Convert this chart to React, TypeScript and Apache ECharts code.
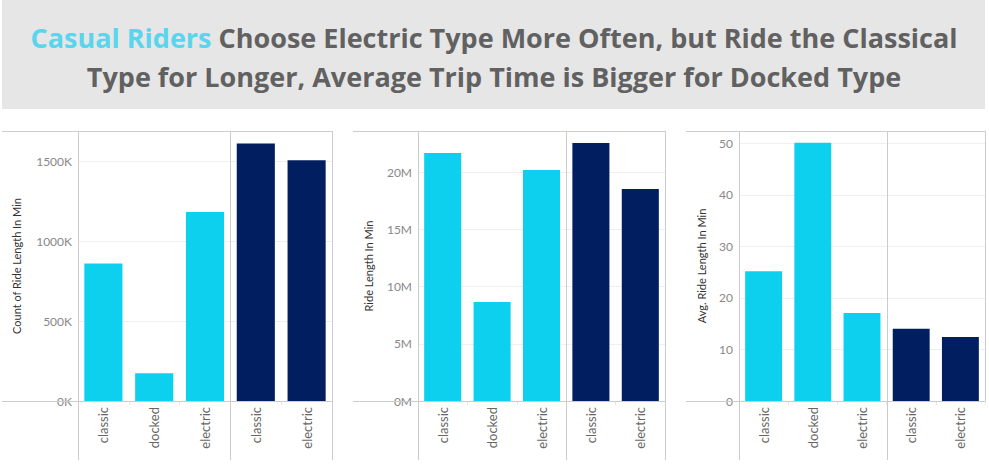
import React, { useEffect, useRef } from "react";
import * as echarts from "echarts";

const rideTypes = ["classic", "docked", "electric", "classic", "electric"];
const riderGroup = ["casual", "casual", "casual", "member", "member"];

const countCasual = [860000, 173000, 1181000];
const countMember = [1610000, 1504000];
const lengthCasual = [21680000, 8650000, 20190000];
const lengthMember = [22550000, 18530000];
const avgCasual = [25.2, 50.1, 17.1];
const avgMember = [14.0, 12.4];

const CASUAL = "#0dd0ef";
const MEMBER = "#001e60";
const FONT = "Lato, 'Open Sans', sans-serif";
const TITLE_FONT = "'Open Sans', Lato, sans-serif";

export default function App() {
  const ref = useRef<HTMLDivElement>(null);
  useEffect(() => {
    document.body.style.margin = "0";
    const chart = echarts.init(ref.current!, null, { renderer: "svg" });

    const grids = [
      { left: 78, top: 131, width: 254, height: 270 },
      { left: 418, top: 131, width: 247, height: 270 },
      { left: 739, top: 131, width: 246, height: 270 },
    ];
    const values = [
      [...countCasual, ...countMember],
      [...lengthCasual, ...lengthMember],
      [...avgCasual, ...avgMember],
    ];
    const maxes = [1687500, 23610000, 52.4];
    const intervals = [500000, 5000000, 10];
    const fmts = [
      (v: number) => `${Math.round(v / 1000)}K`,
      (v: number) => `${Math.round(v / 1000000)}M`,
      (v: number) => `${v}`,
    ];
    const names = ["Count of Ride Length In Min", "Ride Length In Min", "Avg. Ride Length In Min"];
    const nameGaps = [56, 44, 32];

    const xAxis = grids.map((_, i) => ({
      type: "category",
      gridIndex: i,
      data: rideTypes,
      axisLine: { show: false },
      axisTick: { show: true, length: 4, lineStyle: { color: "#e8e8e8" } },
      axisLabel: { rotate: 90, margin: 6, color: "#666", fontSize: 13, fontFamily: FONT, interval: 0 },
    }));
    const yAxis = grids.map((_, i) => ({
      type: "value",
      gridIndex: i,
      min: 0,
      max: maxes[i],
      interval: intervals[i],
      name: names[i],
      nameLocation: "middle",
      nameGap: nameGaps[i],
      nameRotate: 90,
      nameTextStyle: { color: "#333", fontSize: 11, fontFamily: FONT },
      axisLine: { show: false },
      axisTick: { show: false },
      axisLabel: {
        showMaxLabel: false,
        formatter: fmts[i],
        color: "#888",
        fontSize: 12,
        fontFamily: FONT,
        margin: 6,
      },
      splitLine: { lineStyle: { color: "#efefef", width: 1 } },
    }));
    const series = grids.map((_, i) => ({
      type: "bar",
      xAxisIndex: i,
      yAxisIndex: i,
      barWidth: "75%",
      data: values[i].map((v, j) => ({
        value: v,
        itemStyle: { color: riderGroup[j] === "casual" ? CASUAL : MEMBER },
      })),
    }));

    const frame = "#cccccc";
    const ln = (x1: number, y1: number, x2: number, y2: number) => ({
      type: "line",
      z: 100,
      shape: { x1, y1, x2, y2 },
      style: { stroke: frame, lineWidth: 1 },
    });
    const frames = [
      { l: 2, axis: 78, div: 230, r: 332, rBottom: 460 },
      { l: 353, axis: 418, div: 566, r: 665, rBottom: 460 },
      { l: 686, axis: 739, div: 887, r: 985, rBottom: 401 },
    ];
    const lines: any[] = [];
    frames.forEach((f) => {
      lines.push(ln(f.l, 131.5, f.r, 131.5));
      lines.push(ln(f.l, 401.5, f.r, 401.5));
      lines.push(ln(f.axis + 0.5, 131, f.axis + 0.5, 460));
      lines.push(ln(f.div + 0.5, 131, f.div + 0.5, 460));
      lines.push(ln(f.r + 0.5, 131, f.r + 0.5, f.rBottom));
    });

    chart.setOption({
      animation: false,
      grid: grids,
      xAxis,
      yAxis,
      series,
      graphic: [
        {
          type: "rect",
          z: 0,
          shape: { x: 2, y: 0, width: 983, height: 109 },
          style: { fill: "#e6e6e6" },
        },
        {
          type: "text",
          z: 1,
          x: 494,
          y: 37,
          style: {
            text: "{a|Casual Riders} {b|Choose Electric Type More Often, but Ride the Classical}",
            align: "center",
            verticalAlign: "middle",
            rich: {
              a: { fill: "#5ad5ee", fontSize: 27, fontWeight: "bold", fontFamily: TITLE_FONT },
              b: { fill: "#616161", fontSize: 27, fontWeight: "bold", fontFamily: TITLE_FONT },
            },
            fontSize: 27,
            fontWeight: "bold",
            fontFamily: TITLE_FONT,
          },
        },
        {
          type: "text",
          z: 1,
          x: 494,
          y: 76,
          style: {
            text: "Type for Longer, Average Trip Time is Bigger for Docked Type",
            align: "center",
            verticalAlign: "middle",
            fill: "#616161",
            fontSize: 27,
            fontWeight: "bold",
            fontFamily: TITLE_FONT,
          },
        },
        ...lines,
      ],
    });
    return () => chart.dispose();
  }, []);
  return <div ref={ref} style={{ width: 989, height: 467 }} />;
}
